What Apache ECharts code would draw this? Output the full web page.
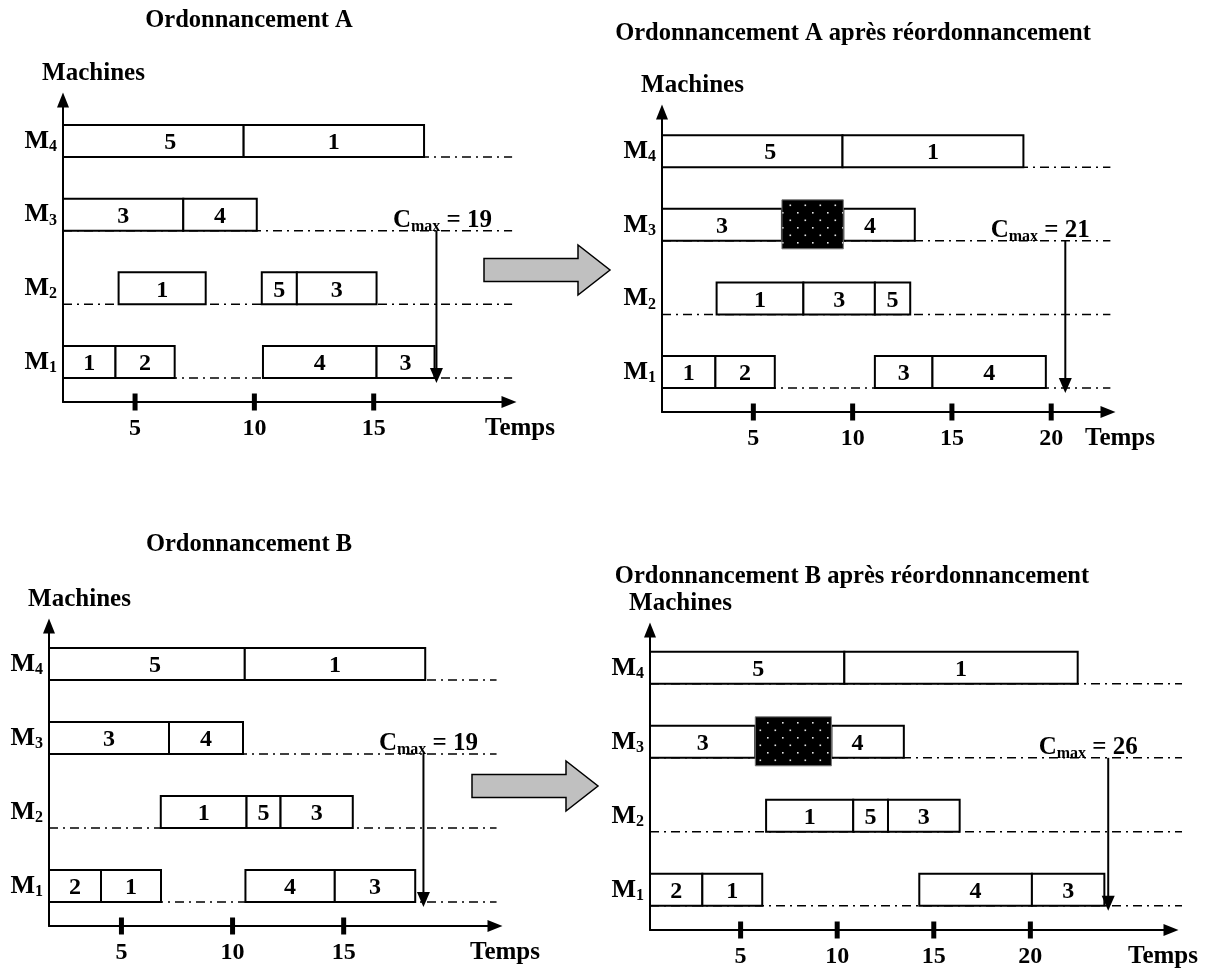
<!DOCTYPE html>
<html><head><meta charset="utf-8">
<script src="https://cdn.jsdelivr.net/npm/echarts@6/dist/echarts.min.js"></script>
<style>html,body{margin:0;padding:0;background:#fff}#c{width:1213px;height:968px}</style>
</head><body><div id="c"></div>
<script>
// ---------- DATA ----------
const machines = ['M1', 'M2', 'M3', 'M4'];
const panelTitles = ['Ordonnancement A', 'Ordonnancement A après réordonnancement',
                     'Ordonnancement B', 'Ordonnancement B après réordonnancement'];
const ticksA = [5, 10, 15];
const ticksA2 = [5, 10, 15, 20];
const ticksB = [5, 10, 15];
const ticksB2 = [5, 10, 15, 20];
// [machine, start, end, job]
const jobsA = [
  ['M4', 1.98, 9.55, '5'], ['M4', 9.55, 17.11, '1'],
  ['M3', 1.98, 7.02, '3'], ['M3', 7.02, 10.10, '4'],
  ['M2', 4.31, 7.96, '1'], ['M2', 10.31, 11.78, '5'], ['M2', 11.78, 15.12, '3'],
  ['M1', 1.98, 4.18, '1'], ['M1', 4.18, 6.66, '2'], ['M1', 10.36, 15.12, '4'], ['M1', 15.12, 17.55, '3']
];
const jobsA2 = [
  ['M4', 0.40, 9.49, '5'], ['M4', 9.49, 18.60, '1'],
  ['M3', 0.40, 6.44, '3'], ['M3', 9.53, 13.13, '4'],
  ['M2', 3.15, 7.52, '1'], ['M2', 7.52, 11.12, '3'], ['M2', 11.12, 12.90, '5'],
  ['M1', 0.40, 3.09, '1'], ['M1', 3.09, 6.08, '2'], ['M1', 11.12, 14.02, '3'], ['M1', 14.02, 19.73, '4']
];
const breakdownA2 = [['M3', 6.44, 9.53]];
const jobsB = [
  ['M4', 1.74, 10.55, '5'], ['M4', 10.55, 18.67, '1'],
  ['M3', 1.74, 7.14, '3'], ['M3', 7.14, 10.47, '4'],
  ['M2', 6.77, 10.63, '1'], ['M2', 10.63, 12.16, '5'], ['M2', 12.16, 15.41, '3'],
  ['M1', 1.74, 4.08, '2'], ['M1', 4.08, 6.78, '1'], ['M1', 10.58, 14.60, '4'], ['M1', 14.60, 18.22, '3']
];
const jobsB2 = [
  ['M4', 0.31, 10.37, '5'], ['M4', 10.37, 22.45, '1'],
  ['M3', 0.31, 5.76, '3'], ['M3', 9.70, 13.45, '4'],
  ['M2', 6.32, 10.83, '1'], ['M2', 10.83, 12.63, '5'], ['M2', 12.63, 16.34, '3'],
  ['M1', 0.31, 3.02, '2'], ['M1', 3.02, 6.12, '1'], ['M1', 14.25, 20.08, '4'], ['M1', 20.08, 23.83, '3']
];
const breakdownB2 = [['M3', 5.76, 9.70]];
const cmaxValues = [19, 21, 19, 26];
const cmaxArrowAt = [17.63, 20.71, 18.59, 24.03];

// ---------- LAYOUT / STYLE ----------
const FONT = '"Liberation Serif", "Times New Roman", serif';
const HALF = 16;
const layouts = [
  {grid: {left: 63, top: 100, width: 446, height: 302}, xMin: 1.98, xMax: 20.67, yMin: 0.457, yMax: 4.556, lineEnd: 20.8, cmaxDx: 6, tempsGap: -24, labelDx: {0: 17}},
  {grid: {left: 662, top: 112, width: 446, height: 300}, xMin: 0.40, xMax: 22.86, yMin: 0.457, yMax: 4.533, lineEnd: 22.98, cmaxDx: -25, tempsGap: -23, labelDx: {0: 18, 3: -9}},
  {grid: {left: 49, top: 626, width: 446, height: 300}, xMin: 1.74, xMax: 21.81, yMin: 0.459, yMax: 4.513, lineEnd: 21.88, cmaxDx: 5, tempsGap: -25, labelDx: {0: 8}},
  {grid: {left: 650, top: 630, width: 521, height: 300}, xMin: 0.31, xMax: 27.28, yMin: 0.457, yMax: 4.511, lineEnd: 27.85, cmaxDx: -20, tempsGap: -43, labelDx: {0: 11, 3: -10}}
];
const panels = [
  {jobs: jobsA, breakdown: [], ticks: ticksA},
  {jobs: jobsA2, breakdown: breakdownA2, ticks: ticksA2},
  {jobs: jobsB, breakdown: [], ticks: ticksB},
  {jobs: jobsB2, breakdown: breakdownB2, ticks: ticksB2}
];

// dotted black pattern for breakdown blocks
const pat = document.createElement('canvas');
pat.width = 15; pat.height = 15;
const pc = pat.getContext('2d');
pc.fillStyle = '#000'; pc.fillRect(0, 0, 15, 15);
pc.fillStyle = '#e6e6e6';
pc.fillRect(2, 2, 1.6, 1.6); pc.fillRect(9.5, 9.5, 1.6, 1.6);

const txt = (size) => ({fontSize: size, fontWeight: 'bold', fontFamily: FONT, color: '#000'});
const rowOf = (m) => machines.indexOf(m) + 1;

const grids = [], xAxes = [], yAxes = [], series = [];
panels.forEach((P, i) => {
  const L = layouts[i];
  grids.push(Object.assign({outerBoundsMode: 'none', containLabel: false}, L.grid));
  xAxes.push({
    gridIndex: i, type: 'value', min: L.xMin, max: L.xMax,
    axisLine: {show: true, onZero: false, symbol: ['none', 'triangle'], symbolSize: [12, 15], lineStyle: {color: '#000', width: 2}},
    axisTick: {show: false}, splitLine: {show: false},
    axisLabel: Object.assign({customValues: P.ticks, margin: 15}, txt(24)),
    name: 'Temps', nameLocation: 'end', nameGap: L.tempsGap, nameMoveOverlap: false,
    nameTextStyle: Object.assign({align: 'left', verticalAlign: 'top', padding: [14, 0, 0, 0]}, txt(25))
  });
  yAxes.push({
    gridIndex: i, type: 'value', min: L.yMin, max: L.yMax,
    axisLine: {show: true, onZero: false, symbol: ['none', 'triangle'], symbolSize: [12, 15], lineStyle: {color: '#000', width: 2}},
    axisTick: {show: false}, splitLine: {show: false},
    axisLabel: {
      customValues: machines.map((m, k) => k + 1), margin: 6,
      formatter: (v) => { const m = machines[Math.round(v) - 1] || ''; return '{m|' + m.slice(0, 1) + '}{s|' + m.slice(1) + '}'; },
      rich: {m: Object.assign({lineHeight: 28}, txt(26)), s: Object.assign({verticalAlign: 'bottom'}, txt(16))}
    },
    name: 'Machines', nameLocation: 'end', nameGap: 14, nameMoveOverlap: false,
    nameTextStyle: Object.assign({align: 'center', padding: [0, 0, 0, 61]}, txt(25))
  });
  // dash-dot baselines
  series.push({
    type: 'custom', xAxisIndex: i, yAxisIndex: i, clip: false, silent: true,
    data: machines.map((m) => [L.xMin, rowOf(m)]),
    encode: {x: 0, y: 1},
    renderItem: (params, api) => {
      const a = api.coord([L.xMin, api.value(1)]);
      const b = api.coord([L.lineEnd, api.value(1)]);
      return {type: 'line', shape: {x1: a[0], y1: a[1] + HALF, x2: b[0], y2: b[1] + HALF},
              style: {stroke: '#000', lineWidth: 1.5, lineDash: [9, 5, 2, 5]}};
    }
  });
  // job bars
  series.push({
    type: 'custom', xAxisIndex: i, yAxisIndex: i, clip: false, silent: true,
    data: P.jobs.map((j) => [j[1], j[2], rowOf(j[0])]),
    encode: {x: [0, 1], y: 2},
    renderItem: (params, api) => {
      const s = api.coord([api.value(0), api.value(2)]);
      const e = api.coord([api.value(1), api.value(2)]);
      const dx = L.labelDx[params.dataIndex] || 0;
      return {type: 'group', children: [
        {type: 'rect', shape: {x: s[0], y: s[1] - HALF, width: e[0] - s[0], height: 2 * HALF},
         style: {fill: '#fff', stroke: '#000', lineWidth: 2}},
        {type: 'text', x: (s[0] + e[0]) / 2 + dx, y: s[1] + 2,
         style: {text: P.jobs[params.dataIndex][3], font: 'bold 24px ' + FONT, fill: '#000', align: 'center', verticalAlign: 'middle'}}
      ]};
    }
  });
  // breakdown blocks
  if (P.breakdown.length) {
    series.push({
      type: 'custom', xAxisIndex: i, yAxisIndex: i, clip: false, silent: true,
      data: P.breakdown.map((b) => [b[1], b[2], rowOf(b[0])]),
      encode: {x: [0, 1], y: 2},
      renderItem: (params, api) => {
        const s = api.coord([api.value(0), api.value(2)]);
        const e = api.coord([api.value(1), api.value(2)]);
        return {type: 'rect', shape: {x: s[0], y: s[1] - HALF - 9, width: e[0] - s[0], height: 2 * HALF + 17},
                style: {fill: {image: pat, repeat: 'repeat'}, stroke: '#777', lineWidth: 1}};
      }
    });
  }
  // thick tick marks on time axis
  series.push({
    type: 'custom', xAxisIndex: i, yAxisIndex: i, clip: false, silent: true,
    data: P.ticks.map((t) => [t, L.yMin]),
    encode: {x: 0, y: 1},
    renderItem: (params, api) => {
      const p = api.coord([api.value(0), api.value(1)]);
      return {type: 'rect', shape: {x: p[0] - 2.5, y: p[1] - 8.5, width: 5, height: 17}, style: {fill: '#000'}};
    }
  });
  // Cmax arrow + label
  series.push({
    type: 'custom', xAxisIndex: i, yAxisIndex: i, clip: false, silent: true,
    data: [[cmaxArrowAt[i], rowOf('M3'), rowOf('M1')]],
    encode: {x: 0, y: [1, 2]},
    renderItem: (params, api) => {
      const t = api.coord([api.value(0), api.value(1)]);
      const b = api.coord([api.value(0), api.value(2)]);
      const x = t[0], y1 = t[1] + HALF, y2 = b[1] + HALF + 5;
      return {type: 'group', children: [
        {type: 'line', shape: {x1: x, y1: y1, x2: x, y2: y2 - 12}, style: {stroke: '#000', lineWidth: 2}},
        {type: 'polygon', shape: {points: [[x - 6.5, y2 - 15], [x + 6.5, y2 - 15], [x, y2]]}, style: {fill: '#000'}},
        {type: 'text', x: x + L.cmaxDx, y: t[1] + 6,
         style: {text: '{c|C}{s|max}{c| = ' + cmaxValues[i] + '}', align: 'center', verticalAlign: 'middle',
                 rich: {c: {fontSize: 25, fontWeight: 'bold', fontFamily: FONT, fill: '#000', lineHeight: 28},
                        s: {fontSize: 16, fontWeight: 'bold', fontFamily: FONT, fill: '#000', verticalAlign: 'bottom'}}}}
      ]};
    }
  });
});

const titlePos = [[249, 21], [853, 34], [249, 545], [852, 577]];
const graphics = panelTitles.map((t, i) => ({
  type: 'text', x: titlePos[i][0], y: titlePos[i][1], silent: true,
  style: {text: t, font: 'bold 24.5px ' + FONT, fill: '#000', align: 'center', verticalAlign: 'middle',
          textAlign: 'center', textVerticalAlign: 'middle'}
}));
const bigArrow = (x0, yc) => [[x0, yc - 11.5], [x0 + 94, yc - 11.5], [x0 + 94, yc - 25], [x0 + 126, yc], [x0 + 94, yc + 25], [x0 + 94, yc + 11.5], [x0, yc + 11.5]];
graphics.push({type: 'polygon', silent: true, shape: {points: bigArrow(484, 270)}, style: {fill: '#c0c0c0', stroke: '#000', lineWidth: 1.5}});
graphics.push({type: 'polygon', silent: true, shape: {points: bigArrow(472, 786)}, style: {fill: '#c0c0c0', stroke: '#000', lineWidth: 1.5}});

const chart = echarts.init(document.getElementById('c'), null, {renderer: 'canvas'});
chart.setOption({
  animation: false,
  backgroundColor: '#fff',
  grid: grids, xAxis: xAxes, yAxis: yAxes, series: series, graphic: graphics
});
</script>
</body></html>
